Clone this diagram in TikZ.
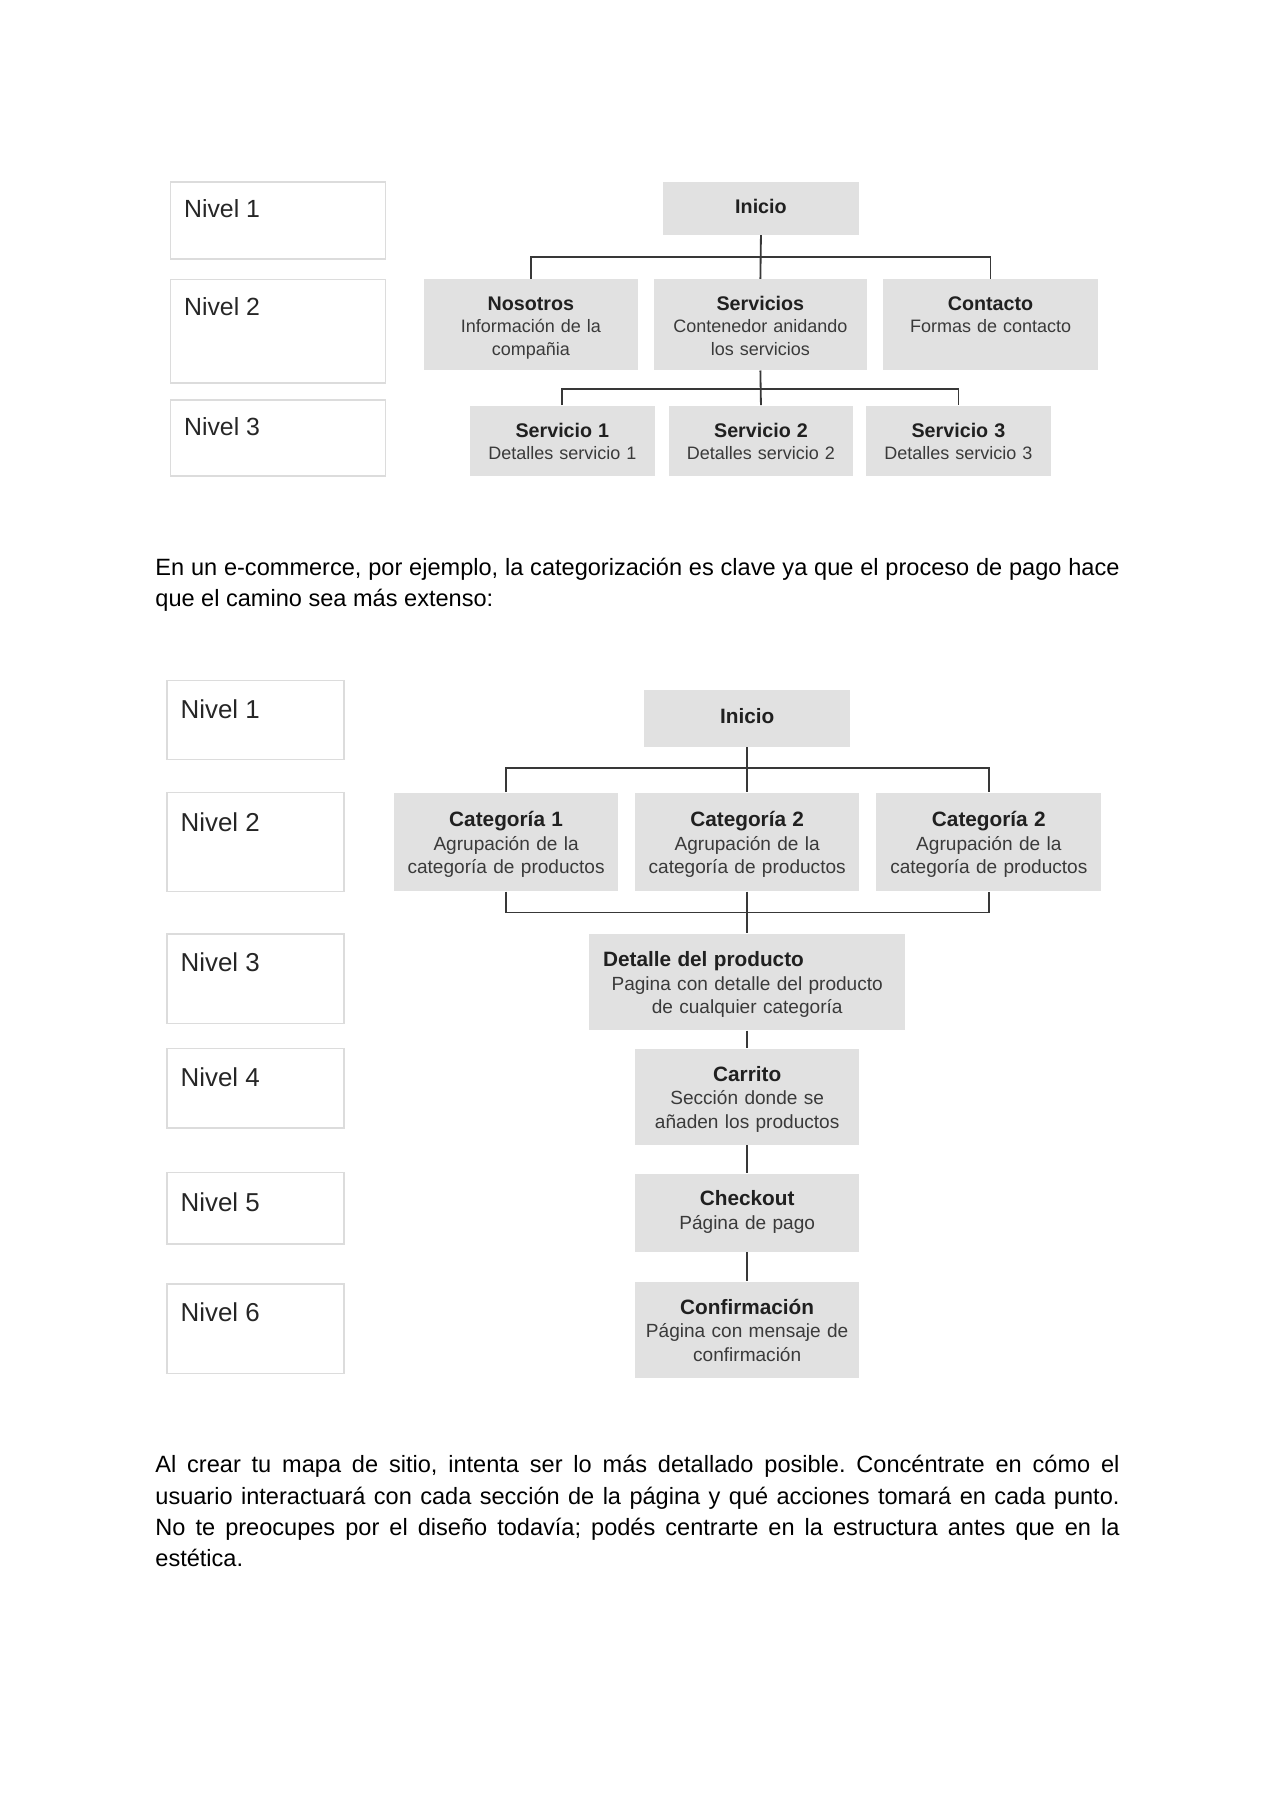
\documentclass[tikz,border=0pt]{standalone}
\usepackage{fontspec}
\setmainfont{Liberation Sans}
\usetikzlibrary{calc}
\frenchspacing
\definecolor{boxgray}{HTML}{E1E1E1}
\definecolor{nivline}{HTML}{DCDCDC}
\definecolor{linec}{HTML}{383838}
\definecolor{ttlc}{HTML}{202020}
\definecolor{subc}{HTML}{3A3A3A}
\newcommand{\ttlA}[1]{{\fontsize{9.2}{10.5}\selectfont\bfseries\color{ttlc}#1}}
\newcommand{\ttlB}[1]{{\fontsize{9.7}{11}\selectfont\bfseries\color{ttlc}#1}}
\begin{document}
\begin{tikzpicture}[x=0.536pt,y=-0.536pt,
  sz/.style 2 args={minimum width=#1*0.536pt, minimum height=#2*0.536pt, text width=#1*0.536pt},
  nivbox/.style={draw=nivline, line width=0.6pt, inner sep=0pt, anchor=north west},
  nivtxtA/.style={anchor=west, inner sep=0pt, font=\fontsize{11.6}{13}\selectfont, text=black!85},
  nivtxtB/.style={anchor=west, inner sep=0pt, font=\fontsize{12.1}{14}\selectfont, text=black!85},
  bxA/.style={fill=boxgray, inner sep=0pt, anchor=north west, align=center, text=subc,
    font=\fontsize{8.4}{10.5}\selectfont,
    execute at begin node={\rule{0pt}{\dimexpr0.7\baselineskip+#1\relax}}, execute at end node=\strut},
  bxA/.default=3.2pt,
  bxB/.style={fill=boxgray, inner sep=0pt, anchor=north west, align=center, text=subc,
    font=\fontsize{8.9}{11}\selectfont,
    execute at begin node={\rule{0pt}{\dimexpr0.7\baselineskip+#1\relax}}, execute at end node=\strut},
  bxB/.default=3.2pt,
  connA/.style={draw=linec, line width=0.85pt},
  connB/.style={draw=linec, line width=0.75pt},
  para/.style={anchor=base west, inner sep=0pt, text width=450.2pt, align=justify, font=\fontsize{11}{14.6}\selectfont}
]
\useasboundingbox[fill=white] (0,0) rectangle (1110,1568);

% ---------- Diagram 1 ----------
\node[nivbox, sz={187}{67}] (a1) at (148,158) {};
\node[nivbox, sz={187}{90}] (a2) at (148,243) {};
\node[nivbox, sz={187}{66}] (a3) at (148,348) {};
\node[nivtxtA] (ta1) at ([shift={(12,24)}]a1.north west) {Nivel 1};
\node[nivtxtA] (ta2) at ([shift={(12,24)}]a2.north west) {Nivel 2};
\node[nivtxtA] (ta3) at ([shift={(12,24)}]a3.north west) {Nivel 3};

\node[bxA=1pt, sz={171}{46}] (ini1) at (577,158) {\ttlA{Inicio}};
\node[bxA, sz={186}{79}] (nos) at (369,243) {\ttlA{Nosotros}\\Información de la\\compañia};
\node[bxA, sz={186}{79}] (serv) at (569,243) {\ttlA{Servicios}\\Contenedor anidando\\los servicios};
\node[bxA, sz={187}{79}] (cont) at (769,243) {\ttlA{Contacto}\\Formas de contacto\\\mbox{}};
\node[bxA, sz={161}{61}] (s1) at (409,353) {\ttlA{Servicio 1}\\Detalles servicio 1};
\node[bxA, sz={161}{61}] (s2) at (582,353) {\ttlA{Servicio 2}\\Detalles servicio 2};
\node[bxA, sz={161}{61}] (s3) at (754,353) {\ttlA{Servicio 3}\\Detalles servicio 3};

\draw[connA] (ini1.south) -- (serv.north);
\draw[connA] (nos.north) -- ++(0,-19) -| (cont.north);
\draw[connA] (serv.south) -- (s2.north);
\draw[connA] (s1.north) -- ++(0,-14) -| (s3.north);

% ---------- Paragraph 1 ----------
\node[para] (p1) at (135,501) {\hyphenpenalty=10000 En un e-commerce, por ejemplo, la categorización es clave ya que el proceso de pago hace\linebreak que el camino sea más extenso:};

% ---------- Diagram 2 ----------
\node[nivbox, sz={154}{69}] (b1) at (145,592) {};
\node[nivbox, sz={154}{86}] (b2) at (145,690) {};
\node[nivbox, sz={154}{78}] (b3) at (145,813) {};
\node[nivbox, sz={154}{69}] (b4) at (145,913) {};
\node[nivbox, sz={154}{62}] (b5) at (145,1021) {};
\node[nivbox, sz={154}{78}] (b6) at (145,1118) {};
\node[nivtxtB] (tb1) at ([shift={(12,26)}]b1.north west) {Nivel 1};
\node[nivtxtB] (tb2) at ([shift={(12,26)}]b2.north west) {Nivel 2};
\node[nivtxtB] (tb3) at ([shift={(12,25)}]b3.north west) {Nivel 3};
\node[nivtxtB] (tb4) at ([shift={(12,25)}]b4.north west) {Nivel 4};
\node[nivtxtB] (tb5) at ([shift={(12,26)}]b5.north west) {Nivel 5};
\node[nivtxtB] (tb6) at ([shift={(12,25)}]b6.north west) {Nivel 6};

\node[bxB=0pt, sz={179}{49}] (ini2) at (561,601) {\ttlB{Inicio}};
\node[bxB, sz={195}{86}] (c1) at (343,690) {\ttlB{Categoría 1}\\Agrupación de la\\categoría de productos};
\node[bxB, sz={195}{86}] (c2) at (553,690) {\ttlB{Categoría 2}\\Agrupación de la\\categoría de productos};
\node[bxB, sz={196}{86}] (c3) at (763,690) {\ttlB{Categoría 2}\\Agrupación de la\\categoría de productos};
\node[bxB, sz={275}{84}] (det) at (513,813) {\makebox[\linewidth][l]{\hspace*{6.4pt}\ttlB{Detalle del producto}}\\Pagina con detalle del producto\\de cualquier categoría};
\node[bxB, sz={195}{84}] (car) at (553,913) {\ttlB{Carrito}\\Sección donde se\\añaden los productos};
\node[bxB=0pt, sz={195}{68}] (chk) at (553,1022) {\ttlB{Checkout}\\Página de pago};
\node[bxB, sz={195}{84}] (conf) at (553,1116) {\ttlB{Confirmación}\\Página con mensaje de\\confirmación};

\draw[connB] (ini2.south) -- (c2.north);
\draw[connB] (c1.north) -- ++(0,-21) -| (c3.north);
\draw[connB] (c1.south) -- ++(0,18) -| (c3.south);
\draw[connB] (c2.south) -- (det.north);
\draw[connB] (det.south) -- (car.north);
\draw[connB] (car.south) -- (chk.north);
\draw[connB] (chk.south) -- (conf.north);

% ---------- Paragraph 2 ----------
\node[para] (p2) at (135,1283) {\hyphenpenalty=10000 Al crear tu mapa de sitio, intenta ser lo más detallado posible. Concéntrate en cómo el\linebreak usuario interactuará con cada sección de la página y qué acciones tomará en cada punto.\linebreak No te preocupes por el diseño todavía; podés centrarte en la estructura antes que en la\linebreak estética.};
\end{tikzpicture}
\end{document}
